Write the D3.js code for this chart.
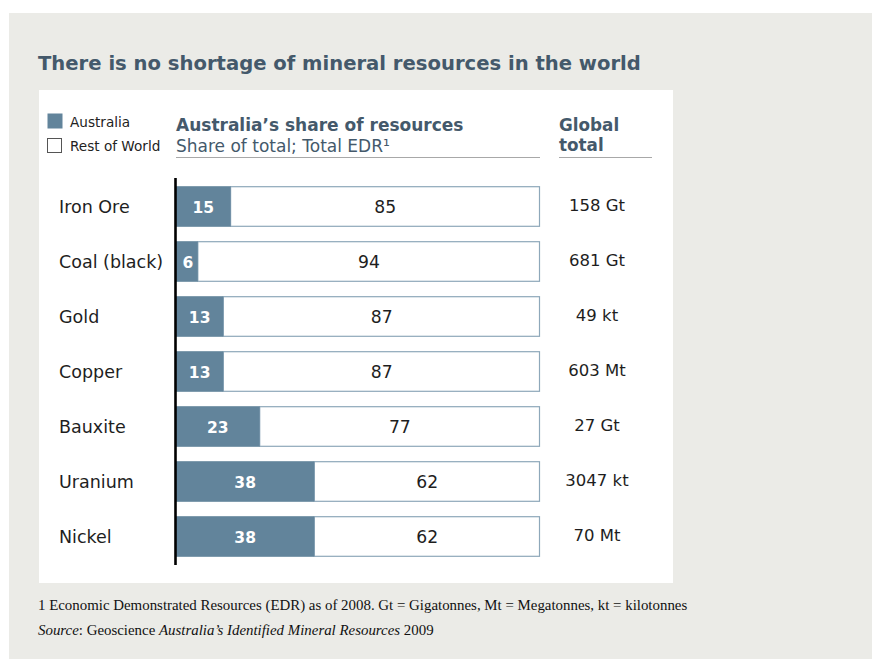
<!DOCTYPE html>
<html>
<head>
<meta charset="utf-8">
<script src="https://cdn.jsdelivr.net/npm/d3@7"></script>
<style>
  html, body { margin: 0; padding: 0; background: #ffffff; }
  svg { display: block; }
</style>
</head>
<body>
<script>
// Minerals and Australia's share (%) of economic demonstrated resources
const minerals = ["Iron Ore", "Coal (black)", "Gold", "Copper", "Bauxite", "Uranium", "Nickel"];
const australiaShare = [15, 6, 13, 13, 23, 38, 38];
const restOfWorld = [85, 94, 87, 87, 77, 62, 62];
const globalTotals = ["158 Gt", "681 Gt", "49 kt", "603 Mt", "27 Gt", "3047 kt", "70 Mt"];
const legendLabels = ["Australia", "Rest of World"];

const W = 873, H = 659;
const sans = "'DejaVu Sans', Verdana, sans-serif";
const serif = "'Liberation Serif', 'Times New Roman', serif";
const slate = "#44596b";
const ausColor = "#62849b";
const barStroke = "#8ea8ba";

const svg = d3.select("body").append("svg").attr("width", W).attr("height", H);

// page background and white chart panel
svg.append("rect").attr("x", 9).attr("y", 13).attr("width", 863).attr("height", 646).attr("fill", "#ebebe7");
svg.append("rect").attr("x", 39).attr("y", 90).attr("width", 634).attr("height", 493).attr("fill", "#ffffff");

// title
svg.append("text").attr("x", 38).attr("y", 70)
  .attr("font-family", sans).attr("font-weight", 700).attr("font-size", 19.6)
  .attr("fill", slate).text("There is no shortage of mineral resources in the world");

// legend
const legend = svg.append("g").attr("font-family", sans).attr("font-size", 13.6).attr("fill", "#222");
legend.append("rect").attr("x", 47.5).attr("y", 113.5).attr("width", 15).attr("height", 15).attr("fill", ausColor);
legend.append("rect").attr("x", 47.5).attr("y", 138.5).attr("width", 14).attr("height", 14)
  .attr("fill", "#fff").attr("stroke", "#555").attr("stroke-width", 1);
legend.append("text").attr("x", 70).attr("y", 127).text(legendLabels[0]);
legend.append("text").attr("x", 70).attr("y", 151).text(legendLabels[1]);

// scales
const x = d3.scaleLinear().domain([0, 100]).range([176, 540]);
const y = d3.scaleBand().domain(minerals).range([178.5, 563.5]).paddingInner(0.28).paddingOuter(0.14);

// column headers
const hdr = svg.append("g").attr("font-family", sans).attr("fill", slate);
hdr.append("text").attr("x", x(0)).attr("y", 131).attr("font-weight", 700).attr("font-size", 17)
  .text("Australia\u2019s share of resources");
hdr.append("text").attr("x", x(0)).attr("y", 152).attr("font-size", 17)
  .text("Share of total; Total EDR\u00B9");
hdr.append("text").attr("x", 559).attr("y", 131).attr("font-weight", 700).attr("font-size", 16.8).text("Global");
hdr.append("text").attr("x", 559).attr("y", 151).attr("font-weight", 700).attr("font-size", 16.8).text("total");
svg.append("line").attr("x1", x(0)).attr("x2", 540).attr("y1", 157.5).attr("y2", 157.5)
  .attr("stroke", "#a8a8a8").attr("stroke-width", 1.2);
svg.append("line").attr("x1", 559).attr("x2", 652).attr("y1", 157.5).attr("y2", 157.5)
  .attr("stroke", "#a8a8a8").attr("stroke-width", 1.2);

const rows = minerals.map((m, i) => ({
  name: m, aus: australiaShare[i], row: restOfWorld[i], total: globalTotals[i]
}));

const g = svg.append("g");
const row = g.selectAll("g.row").data(rows).join("g").attr("class", "row");

// rest-of-world segment (white with outline)
row.append("rect")
  .attr("x", d => x(d.aus)).attr("y", d => y(d.name) + 0.5)
  .attr("width", d => x(d.aus + d.row) - x(d.aus) - 0.5).attr("height", y.bandwidth())
  .attr("fill", "#fff").attr("stroke", barStroke).attr("stroke-width", 1.2);
// Australia segment
row.append("rect")
  .attr("x", x(0)).attr("y", d => y(d.name))
  .attr("width", d => x(d.aus) - x(0)).attr("height", y.bandwidth() + 1)
  .attr("fill", ausColor);

const cy = d => y(d.name) + y.bandwidth() / 2 + 6.5;
row.append("text").attr("x", 59).attr("y", cy)
  .attr("font-family", sans).attr("font-size", 17.5).attr("fill", "#1e1e1e").text(d => d.name);
row.append("text").attr("x", d => (x(0) + x(d.aus)) / 2 + (d.aus < 10 ? 1 : 0)).attr("y", cy)
  .attr("text-anchor", "middle").attr("font-family", sans).attr("font-weight", 700)
  .attr("font-size", 15.5).attr("fill", "#fff").text(d => d.aus);
row.append("text").attr("x", d => (x(d.aus) + x(100)) / 2).attr("y", cy)
  .attr("text-anchor", "middle").attr("font-family", sans)
  .attr("font-size", 17.2).attr("fill", "#1e1e1e").text(d => d.row);
row.append("text").attr("x", 597).attr("y", d => cy(d) - 2)
  .attr("text-anchor", "middle").attr("font-family", sans)
  .attr("font-size", 16.5).attr("fill", "#1e1e1e").text(d => d.total);

// baseline axis
svg.append("line").attr("x1", 175.5).attr("x2", 175.5).attr("y1", 178).attr("y2", 565)
  .attr("stroke", "#000").attr("stroke-width", 2.6);

// footnotes
const foot = svg.append("g").attr("font-family", serif).attr("font-size", 14.9).attr("fill", "#111");
foot.append("text").attr("x", 38).attr("y", 610)
  .text("1 Economic Demonstrated Resources (EDR) as of 2008. Gt = Gigatonnes, Mt = Megatonnes, kt = kilotonnes");
const src = foot.append("text").attr("x", 38).attr("y", 635);
src.append("tspan").attr("font-style", "italic").text("Source");
src.append("tspan").text(": Geoscience ");
src.append("tspan").attr("font-style", "italic").text("Australia\u2019s Identified Mineral Resources");
src.append("tspan").text(" 2009");
</script>
</body>
</html>
